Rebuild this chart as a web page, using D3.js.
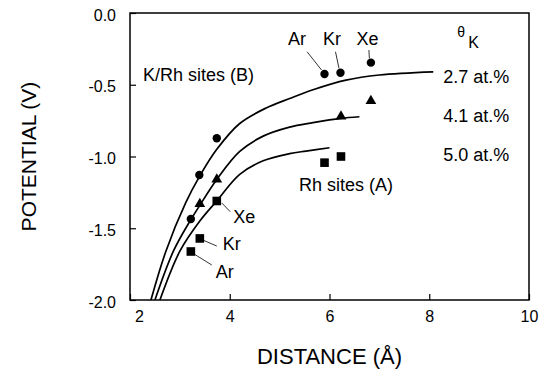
<!DOCTYPE html>
<html>
<head>
<meta charset="utf-8">
<script src="https://cdn.jsdelivr.net/npm/d3@7"></script>
<style>
  body { margin: 0; background: #fff; }
  svg { display: block; font-family: "Liberation Sans", Arial, sans-serif; }
</style>
</head>
<body>
<div id="chart"></div>
<script>
// Measured points (distance in Å, potential in V)
const circleX = [3.22, 3.39, 3.74, 5.90, 6.22, 6.83];
const circleY = [-1.436, -1.129, -0.873, -0.425, -0.416, -0.346];
const triangleX = [3.40, 3.74, 6.23, 6.83];
const triangleY = [-1.331, -1.160, -0.721, -0.613];
const squareX = [3.74, 3.40, 3.22, 5.90, 6.23];
const squareY = [-1.310, -1.571, -1.662, -1.043, -1.000];

// Fitted curves
const curve27X = [2.42, 2.72, 3.12, 3.40, 3.74, 4.20, 4.73, 5.20, 5.67, 6.33, 7.00, 8.08];
const curve27Y = [-2.0, -1.66, -1.32, -1.135, -0.95, -0.77, -0.662, -0.596, -0.535, -0.468, -0.432, -0.41];
const curve41X = [2.50, 2.87, 3.22, 3.40, 3.74, 4.20, 4.67, 5.20, 5.67, 6.22, 6.60];
const curve41Y = [-2.0, -1.66, -1.44, -1.34, -1.16, -0.965, -0.858, -0.795, -0.764, -0.734, -0.723];
const curve50X = [2.60, 3.00, 3.40, 3.74, 4.20, 4.67, 5.20, 5.53, 6.00];
const curve50Y = [-2.0, -1.66, -1.45, -1.31, -1.125, -1.03, -0.98, -0.962, -0.939];

const xTicks = [2, 4, 6, 8, 10];
const yTicks = [0, -0.5, -1.0, -1.5, -2.0];
const coverageLabels = ['2.7 at.%', '4.1 at.%', '5.0 at.%'];
const coverageLabelY = [-0.488, -0.760, -1.031];

// Gas labels with leader lines (data units)
const gasLabels = [
  { text: 'Ar', x: 5.35, y: -0.223, anchor: 'middle', l: [5.55, -0.27, 5.84, -0.397] },
  { text: 'Kr', x: 6.05, y: -0.223, anchor: 'middle', l: [6.12, -0.27, 6.19, -0.385] },
  { text: 'Xe', x: 6.76, y: -0.223, anchor: 'middle', l: [6.79, -0.258, 6.80, -0.316] },
  { text: 'Xe', x: 4.07, y: -1.463, anchor: 'start', l: [3.84, -1.324, 4.01, -1.385] },
  { text: 'Kr', x: 3.86, y: -1.652, anchor: 'start', l: [3.48, -1.585, 3.74, -1.624] },
  { text: 'Ar', x: 3.72, y: -1.847, anchor: 'start', l: [3.30, -1.683, 3.64, -1.756] }
];

const width = 540, height = 372;
const margin = { top: 13, right: 11, bottom: 72, left: 130 };

const svg = d3.select('#chart').append('svg')
  .attr('width', width)
  .attr('height', height);

const x = d3.scaleLinear().domain([2, 10]).range([margin.left, width - margin.right]);
const y = d3.scaleLinear().domain([-2, 0]).range([height - margin.bottom, margin.top]);

// Axes with inward ticks
const xAxis = svg.append('g')
  .attr('transform', `translate(0,${y(-2)})`)
  .call(d3.axisBottom(x).tickValues(xTicks).tickFormat(d => String(d))
    .tickSizeInner(-6).tickSizeOuter(0).tickPadding(11));
xAxis.select('.domain').remove();
xAxis.selectAll('text').attr('font-size', 16).attr('fill', '#000')
  .attr('dx', d => d === 2 ? 9 : 0);
xAxis.selectAll('line').attr('stroke', '#000').attr('stroke-width', 1.2);

const yAxis = svg.append('g')
  .attr('transform', `translate(${x(2)},0)`)
  .call(d3.axisLeft(y).tickValues(yTicks).tickFormat(d => d.toFixed(1))
    .tickSizeInner(-6).tickSizeOuter(0).tickPadding(14));
yAxis.select('.domain').remove();
yAxis.selectAll('text').attr('font-size', 16).attr('fill', '#000').attr('dy', '0.45em');
yAxis.selectAll('line').attr('stroke', '#000').attr('stroke-width', 1.2);

// Frame
svg.append('rect')
  .attr('x', x(2)).attr('y', y(0))
  .attr('width', x(10) - x(2)).attr('height', y(-2) - y(0))
  .attr('fill', 'none').attr('stroke', '#000').attr('stroke-width', 1.5);

// Curves
const line = d3.line().x(d => x(d[0])).y(d => y(d[1])).curve(d3.curveCatmullRom.alpha(0.5));
[[curve27X, curve27Y], [curve41X, curve41Y], [curve50X, curve50Y]].forEach(([xs, ys]) => {
  svg.append('path')
    .attr('d', line(d3.zip(xs, ys)))
    .attr('fill', 'none')
    .attr('stroke', '#000')
    .attr('stroke-width', 1.7);
});

// Markers
svg.append('g').selectAll('circle')
  .data(d3.zip(circleX, circleY))
  .join('circle')
  .attr('cx', d => x(d[0])).attr('cy', d => y(d[1])).attr('r', 4.2)
  .attr('fill', '#000');

svg.append('g').selectAll('path')
  .data(d3.zip(triangleX, triangleY))
  .join('path')
  .attr('transform', d => `translate(${x(d[0])},${y(d[1])})`)
  .attr('d', d3.symbol(d3.symbolTriangle, 50))
  .attr('fill', '#000');

svg.append('g').selectAll('rect')
  .data(d3.zip(squareX, squareY))
  .join('rect')
  .attr('x', d => x(d[0]) - 4.3).attr('y', d => y(d[1]) - 4.3)
  .attr('width', 8.6).attr('height', 8.6)
  .attr('fill', '#000');

// Gas labels and leaders
gasLabels.forEach(g => {
  svg.append('line')
    .attr('x1', x(g.l[0])).attr('y1', y(g.l[1]))
    .attr('x2', x(g.l[2])).attr('y2', y(g.l[3]))
    .attr('stroke', '#000').attr('stroke-width', 0.8);
  svg.append('text')
    .attr('x', x(g.x)).attr('y', y(g.y))
    .attr('text-anchor', g.anchor)
    .attr('font-size', 18)
    .text(g.text);
});

// Coverage labels
svg.append('text').attr('x', x(8.56)).attr('y', y(-0.167)).attr('font-size', 14).text('θ');
svg.append('text').attr('x', x(8.78)).attr('y', y(-0.244)).attr('font-size', 16).text('K');
coverageLabels.forEach((t, i) => {
  svg.append('text')
    .attr('x', x(8.28)).attr('y', y(coverageLabelY[i]))
    .attr('font-size', 18)
    .text(t);
});

svg.append('text').attr('x', x(2.26)).attr('y', y(-0.474)).attr('font-size', 18).text('K/Rh sites (B)');
svg.append('text').attr('x', x(5.39)).attr('y', y(-1.24)).attr('font-size', 18).text('Rh sites (A)');

// Axis titles
svg.append('text')
  .attr('x', (x(2) + x(10)) / 2).attr('y', 364)
  .attr('text-anchor', 'middle').attr('font-size', 22)
  .text('DISTANCE (Å)');
svg.append('text')
  .attr('transform', `translate(36,${(y(0) + y(-2)) / 2}) rotate(-90)`)
  .attr('text-anchor', 'middle').attr('font-size', 21)
  .text('POTENTIAL (V)');
</script>
</body>
</html>
